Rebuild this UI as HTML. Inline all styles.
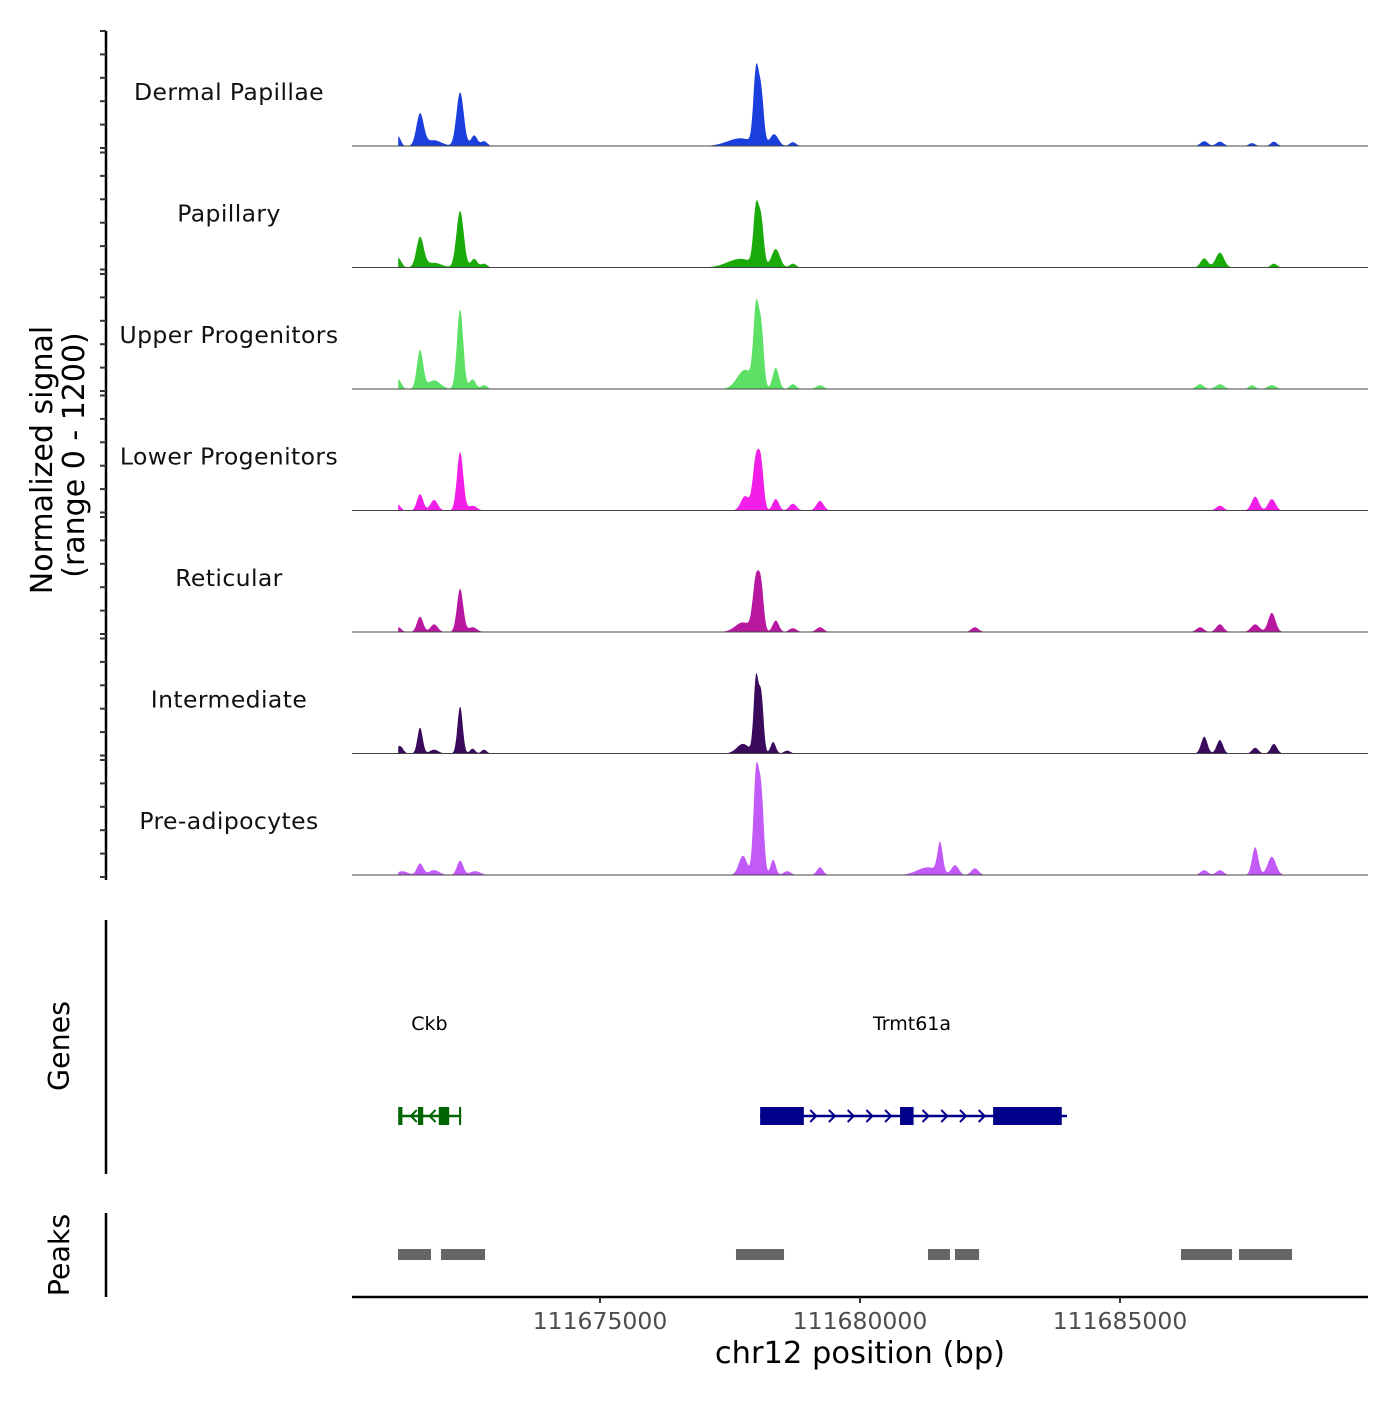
<!DOCTYPE html>
<html><head><meta charset="utf-8"><style>
html,body{margin:0;padding:0;background:#fff}
svg text{font-family:"DejaVu Sans","Liberation Sans",sans-serif}
</style></head><body>
<svg id="chart" width="1400" height="1400" viewBox="0 0 1400 1400" xmlns="http://www.w3.org/2000/svg">
<g id="tracks"></g>
<g id="axes"></g>
<g id="genes"></g>
<g id="peaks"></g>
</svg>
<script>
// genomic positions in kb offset from 111670000
const trackNames = ["Dermal Papillae","Papillary","Upper Progenitors","Lower Progenitors","Reticular","Intermediate","Pre-adipocytes"];
const trackColors = ["#1a3fdc","#1aab0a","#5ce065","#f21fe8","#b8179f","#3a0a5c","#c25af7"];
// peaks per track: [center kb, height (signal), width kb]
const peaksDP = [[1.12,100,0.05],[1.54,330,0.07],[1.8,60,0.15],[2.31,560,0.07],[2.58,110,0.06],[2.77,50,0.06],[7.7,80,0.25],[8.0,740,0.05],[8.1,520,0.05],[8.35,120,0.08],[8.71,40,0.06],[16.62,50,0.07],[16.92,45,0.07],[17.54,30,0.06],[17.96,45,0.06]];
const peaksPap = [[1.12,100,0.06],[1.54,310,0.07],[1.8,50,0.15],[2.31,590,0.07],[2.58,90,0.06],[2.77,40,0.06],[7.7,90,0.25],[8.0,580,0.05],[8.1,460,0.05],[8.38,190,0.08],[8.71,40,0.06],[16.62,95,0.07],[16.92,155,0.08],[17.96,40,0.06]];
const peaksUP = [[1.12,100,0.06],[1.54,400,0.06],[1.81,90,0.12],[2.31,830,0.06],[2.55,100,0.06],[2.77,40,0.06],[7.79,200,0.15],[8.0,770,0.05],[8.1,600,0.05],[8.38,220,0.06],[8.71,50,0.06],[9.23,40,0.07],[16.54,50,0.07],[16.92,50,0.08],[17.54,40,0.06],[17.92,40,0.08]];
const peaksLP = [[1.12,60,0.05],[1.54,170,0.06],[1.81,110,0.07],[2.31,610,0.06],[2.55,50,0.08],[7.79,150,0.08],[8.0,540,0.06],[8.1,430,0.05],[8.38,120,0.06],[8.71,70,0.07],[9.23,100,0.07],[16.92,50,0.07],[17.6,145,0.07],[17.92,120,0.07]];
const peaksRet = [[1.12,50,0.06],[1.54,160,0.06],[1.81,80,0.07],[2.31,450,0.06],[2.55,50,0.08],[7.75,100,0.15],[8.0,530,0.06],[8.1,420,0.05],[8.38,120,0.06],[8.71,40,0.07],[9.23,50,0.07],[12.21,50,0.07],[16.54,50,0.07],[16.92,80,0.07],[17.6,80,0.08],[17.92,200,0.07]];
const peaksInt = [[1.15,80,0.06],[1.54,270,0.05],[1.81,40,0.08],[2.31,490,0.05],[2.55,50,0.05],[2.77,40,0.05],[7.75,100,0.12],[8.0,770,0.045],[8.1,600,0.045],[8.33,120,0.05],[8.6,30,0.06],[16.62,175,0.06],[16.92,140,0.06],[17.6,60,0.06],[17.96,100,0.06]];
const peaksPre = [[1.2,40,0.1],[1.54,120,0.06],[1.81,50,0.1],[2.31,150,0.06],[2.6,40,0.1],[7.75,200,0.08],[8.0,1030,0.05],[8.1,830,0.05],[8.33,160,0.05],[8.6,40,0.07],[9.23,80,0.06],[11.3,80,0.2],[11.54,310,0.05],[11.83,100,0.07],[12.21,70,0.07],[16.62,50,0.07],[16.92,50,0.07],[17.6,290,0.06],[17.92,190,0.08]];
const allPeaks = [peaksDP,peaksPap,peaksUP,peaksLP,peaksRet,peaksInt,peaksPre];
const yTicks = [0,240,480,720,960,1200];
const xTicks = [111675000,111680000,111685000];
const xTickLabels = ["111675000","111680000","111685000"];
const genes = [{name:"Ckb",start:1.12,end:2.33,strand:-1,color:"#006400",exons:[[1.12,1.2],[1.5,1.6],[1.9,2.1],[2.29,2.33]],label:1.72},
               {name:"Trmt61a",start:8.08,end:13.98,strand:1,color:"#00008b",exons:[[8.08,8.92],[10.77,11.03],[12.56,13.88]],label:11.0}];
const peakRegions = [[1.116,1.75],[1.942,2.789],[7.615,8.539],[11.308,11.73],[11.827,12.29],[16.173,17.154],[17.288,18.308]];

const ns="http://www.w3.org/2000/svg";
function mk(tag,attrs,parent){const e=document.createElementNS(ns,tag);for(const k in attrs)e.setAttribute(k,attrs[k]);parent.appendChild(e);return e;}
const X0=352,X1=1368,KB0=0.231,KB1=19.769;
function xs(kb){return X0+(kb-KB0)/(KB1-KB0)*(X1-X0);}
function xsBp(bp){return xs((bp-111670000)/1000);}
const TH=121.5, RANGE=117;
function baseY(i){return 148+TH*i;}
function ys(i,v){return baseY(i)-2-Math.min(v,1200)/1200*(RANGE-2);}

const tracks=document.getElementById('tracks');
allPeaks.forEach((pk,i)=>{
  const g=mk('g',{},tracks);
  
  
  let d='M'+xs(1.12)+','+ys(i,0);
  for(let kb=1.12;kb<=18.9;kb+=0.012){
    let v=0;pk.forEach(p=>{const z=(kb-p[0])/p[2];v+=p[1]*Math.exp(-0.5*z*z);});
    d+=' L'+xs(kb).toFixed(1)+','+ys(i,v).toFixed(1);
  }
  d+=' L'+xs(18.9)+','+ys(i,0)+' Z';
  const a=mk('path',{d:d,fill:trackColors[i]},g);
  
  
  const bl=mk('line',{x1:X0,x2:X1,y1:ys(i,0),y2:ys(i,0),stroke:'#444','stroke-width':1},g);
  
  
  const t=mk('text',{x:229,y:baseY(i)-48,'font-size':23.5,'text-anchor':'middle',fill:'#111','letter-spacing':'0.4'},g);
  t.textContent=trackNames[i];
  
  
});

const axes=document.getElementById('axes');
let l=mk('line',{x1:106,x2:106,y1:31,y2:880,stroke:'#000','stroke-width':2.5},axes);


for(let i=0;i<7;i++){yTicks.forEach(v=>{
  const yy=baseY(i)-v/1200*RANGE;
  const tk=mk('line',{x1:100,x2:106,y1:yy,y2:yy,stroke:'#333','stroke-width':2},axes);
  
  
});}
let yt=mk('text',{transform:'translate(52,460) rotate(-90)','font-size':30,'text-anchor':'middle',fill:'#000'},axes);
yt.textContent='Normalized signal';


let yt2=mk('text',{transform:'translate(84,455) rotate(-90)','font-size':30,'text-anchor':'middle',fill:'#000'},axes);
yt2.textContent='(range 0 - 1200)';


[[920,1174,'Genes',1046,'genes-axis'],[1213,1297,'Peaks',1255,'peaks-axis']].forEach(a=>{
  const ln=mk('line',{x1:106,x2:106,y1:a[0],y2:a[1],stroke:'#000','stroke-width':2.5},axes);
  
  
  const tx=mk('text',{transform:'translate(69,'+a[3]+') rotate(-90)','font-size':28.5,'text-anchor':'middle',fill:'#000'},axes);
  tx.textContent=a[2];
  
  
});
let xl=mk('line',{x1:X0,x2:X1,y1:1297,y2:1297,stroke:'#000','stroke-width':2.5},axes);


xTicks.forEach((v,j)=>{
  const x=xsBp(v);
  const tk=mk('line',{x1:x,x2:x,y1:1297,y2:1303,stroke:'#333','stroke-width':2},axes);
  
  
  const tx=mk('text',{x:x,y:1329,'font-size':23.5,'text-anchor':'middle',fill:'#4d4d4d'},axes);
  tx.textContent=xTickLabels[j];
  
  
});
let xt=mk('text',{x:860,y:1363,'font-size':30.5,'text-anchor':'middle',fill:'#000'},axes);
xt.textContent='chr12 position (bp)';



const gg=document.getElementById('genes');
genes.forEach(g=>{
  const grp=mk('g',{},gg);
  
  
  const y=1116;
  mk('line',{x1:xs(g.start),x2:xs(g.end),y1:y,y2:y,stroke:g.color,'stroke-width':2.5},grp);
  g.exons.forEach(e=>{
    const r=mk('rect',{x:xs(e[0]),y:y-9,width:xs(e[1])-xs(e[0]),height:18,fill:g.color},grp);
    
    
  });
  for(let kb=g.start+0.3;kb<g.end-0.2;kb+=0.36){
    const x=xs(kb);
    mk('polyline',{points:(x-3*g.strand)+','+(y-6)+' '+(x+3*g.strand)+','+y+' '+(x-3*g.strand)+','+(y+6),fill:'none',stroke:g.color,'stroke-width':2},grp);
  }
  const tx=mk('text',{x:xs(g.label),y:1030,'font-size':19,'text-anchor':'middle',fill:'#000'},grp);
  tx.textContent=g.name;
  
  
});

const pg=document.getElementById('peaks');
peakRegions.forEach(p=>{
  const r=mk('rect',{x:xs(p[0]),y:1249,width:xs(p[1])-xs(p[0]),height:11,fill:'#666'},pg);
  
  
});
</script>
</body></html>
